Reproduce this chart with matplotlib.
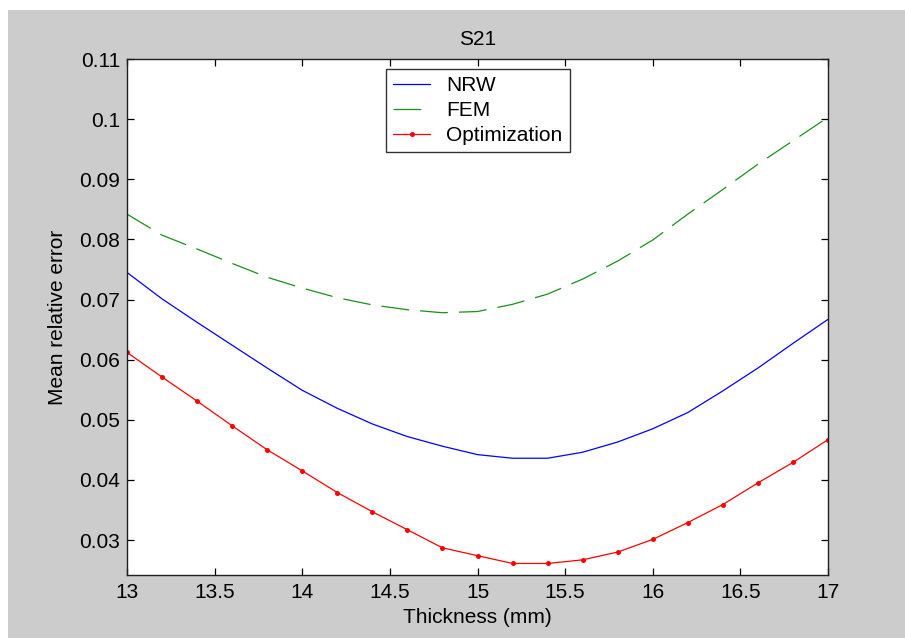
import matplotlib
matplotlib.use("Agg")
import matplotlib.pyplot as plt
from matplotlib.patches import Rectangle

# thickness samples (mm)
thickness = [13.0, 13.2, 13.4, 13.6, 13.8, 14.0, 14.2, 14.4, 14.6, 14.8, 15.0,
             15.2, 15.4, 15.6, 15.8, 16.0, 16.2, 16.4, 16.6, 16.8, 17.0]

nrw = [0.0745, 0.0701, 0.0662, 0.0624, 0.0586, 0.0549, 0.0519, 0.0493, 0.0472,
       0.0456, 0.0442, 0.0436, 0.0436, 0.0446, 0.0463, 0.0485, 0.0512, 0.0548,
       0.0586, 0.0627, 0.0667]

fem = [0.0842, 0.0807, 0.0784, 0.0760, 0.0737, 0.0719, 0.0703, 0.0691, 0.0683,
       0.0678, 0.0680, 0.0692, 0.0709, 0.0734, 0.0764, 0.0799, 0.0842, 0.0883,
       0.0925, 0.0964, 0.1003]

optim = [0.0612, 0.0571, 0.0531, 0.0490, 0.0450, 0.0415, 0.0379, 0.0347, 0.0317,
         0.0287, 0.0274, 0.0261, 0.0261, 0.0267, 0.0280, 0.0301, 0.0329, 0.0359,
         0.0395, 0.0429, 0.0467]

xticks = [13, 13.5, 14, 14.5, 15, 15.5, 16, 16.5, 17]
xticklabels = ["13", "13.5", "14", "14.5", "15", "15.5", "16", "16.5", "17"]
yticks = [0.03, 0.04, 0.05, 0.06, 0.07, 0.08, 0.09, 0.1, 0.11]
yticklabels = ["0.03", "0.04", "0.05", "0.06", "0.07", "0.08", "0.09", "0.1", "0.11"]

plt.rcParams["font.family"] = ["Liberation Sans", "DejaVu Sans"]
plt.rcParams["lines.scale_dashes"] = False
FS = 15

W, H = 905, 638
fig = plt.figure(figsize=(W / 100, H / 100), dpi=100, facecolor="white")
# gray matlab-style figure background, with thin white margin top/left
fig.patches.append(Rectangle((8 / W, 0), 1 - 8 / W, (H - 10) / H,
                             transform=fig.transFigure, facecolor="#cccccc",
                             edgecolor="none", zorder=-10))

ax = fig.add_axes([127 / W, (H - 575) / H, 701 / W, 516 / H])
ax.set_facecolor("white")

ax.plot(thickness, nrw, color="#0000ff", lw=0.9, label="NRW")
ax.plot(thickness, fem, color="#1a8f1a", lw=0.9, dashes=(20, 8), label="FEM")
ax.plot(thickness, optim, color="#ff0000", lw=0.9, marker="o", markersize=3.6,
        markeredgewidth=0, label="Optimization")

ax.set_xlim(13, 17)
ax.set_ylim(0.02418, 0.11)
ax.set_xticks(xticks)
ax.set_xticklabels(xticklabels)
ax.set_yticks(yticks)
ax.set_yticklabels(yticklabels)

ax.tick_params(direction="in", length=5, width=0.9, top=True, right=True,
               labelsize=FS, colors="black")
ax.tick_params(axis="y", pad=5)
ax.tick_params(axis="x", pad=6)
for sp in ax.spines.values():
    sp.set_linewidth(1.0)
    sp.set_color("#202020")

ax.set_title("S21", fontsize=FS, pad=10)
ax.set_xlabel("Thickness (mm)", fontsize=FS, labelpad=4)
ax.set_ylabel("Mean relative error", fontsize=FS, labelpad=9)

leg = ax.legend(loc="upper left", bbox_to_anchor=((386 - 127) / 701, (575 - 69) / 516),
                fontsize=FS, frameon=True, fancybox=False, borderpad=0.35,
                handlelength=1.75, handletextpad=0.8, labelspacing=0.28,
                borderaxespad=0)
leg.get_frame().set_edgecolor("black")
leg.get_frame().set_linewidth(1.0)

fig.savefig("out.png", dpi=100, facecolor=fig.get_facecolor())
